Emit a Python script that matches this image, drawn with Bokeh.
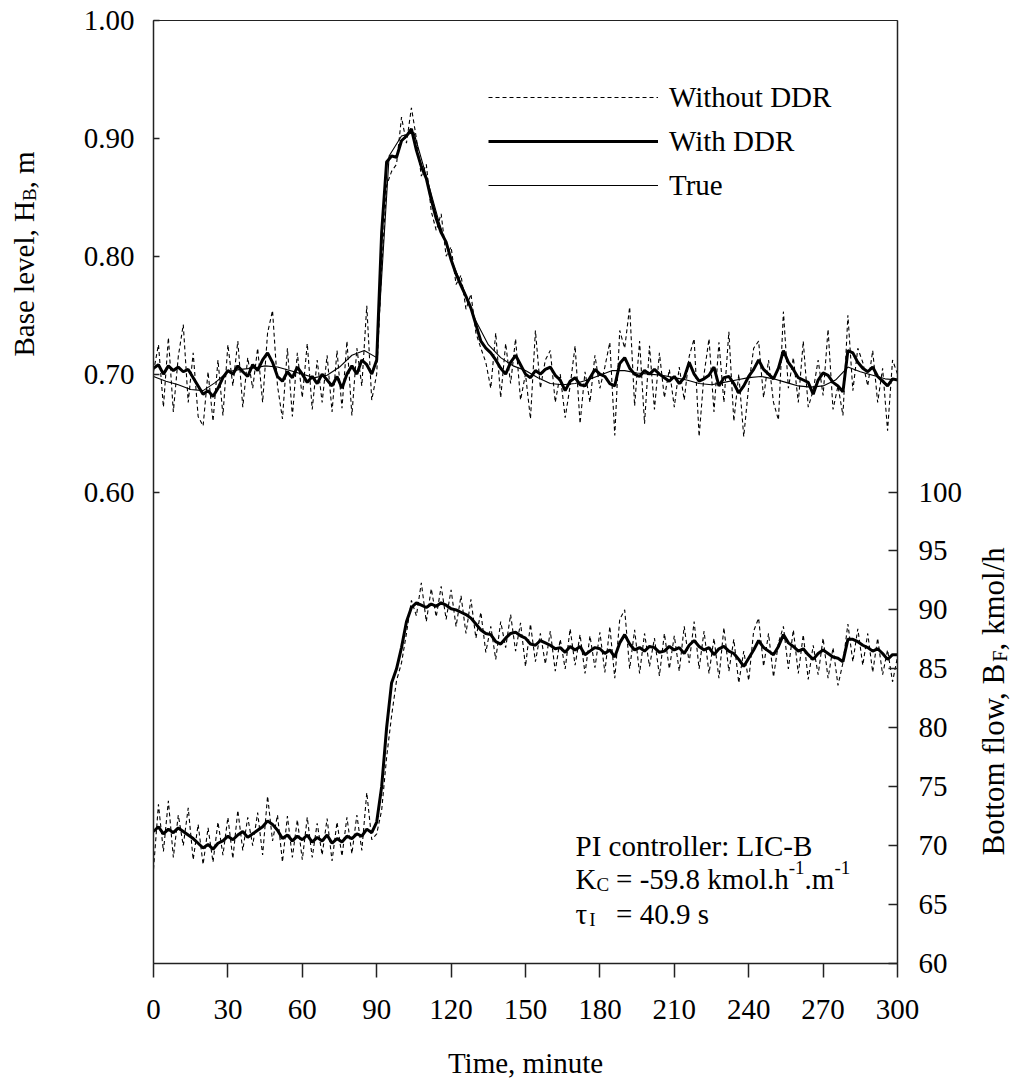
import math
from bokeh.plotting import figure
from bokeh.layouts import row, column
from bokeh.models import (Range1d, LinearAxis, FixedTicker, PrintfTickFormatter,
                          Label, Legend, LegendItem)
from bokeh.embed import file_html
from bokeh.resources import INLINE

# ---------------- data ----------------
TIME_STEP2 = list(range(0, 301, 2))     # minutes, 2-min samples
TIME_STEP5 = list(range(0, 301, 5))     # minutes, 5-min samples

LEVEL_WITH_DDR = [
    0.705, 0.708, 0.700, 0.707, 0.703, 0.706, 0.702, 0.704, 0.697, 0.690,
    0.683, 0.686, 0.681, 0.688, 0.697, 0.703, 0.700, 0.707, 0.702, 0.698,
    0.708, 0.703, 0.712, 0.718, 0.710, 0.698, 0.694, 0.702, 0.697, 0.706,
    0.700, 0.693, 0.698, 0.692, 0.700, 0.695, 0.690, 0.698, 0.688, 0.700,
    0.707, 0.700, 0.712, 0.708, 0.700, 0.712, 0.820, 0.880, 0.885, 0.884,
    0.898, 0.902, 0.908, 0.890, 0.876, 0.866, 0.848, 0.832, 0.820, 0.812,
    0.797, 0.785, 0.775, 0.766, 0.756, 0.742, 0.728, 0.722, 0.718, 0.712,
    0.705, 0.700, 0.710, 0.716, 0.708, 0.700, 0.697, 0.703, 0.700, 0.704,
    0.706, 0.699, 0.695, 0.686, 0.694, 0.697, 0.691, 0.690, 0.697, 0.704,
    0.700, 0.698, 0.692, 0.690, 0.709, 0.714, 0.705, 0.700, 0.698, 0.703,
    0.700, 0.704, 0.700, 0.697, 0.694, 0.698, 0.692, 0.697, 0.710, 0.700,
    0.694, 0.696, 0.699, 0.706, 0.690, 0.697, 0.698, 0.692, 0.684, 0.690,
    0.698, 0.704, 0.712, 0.704, 0.700, 0.696, 0.705, 0.720, 0.710, 0.704,
    0.697, 0.695, 0.693, 0.683, 0.695, 0.701, 0.699, 0.693, 0.690, 0.685,
    0.720, 0.718, 0.710, 0.705, 0.702, 0.706, 0.698, 0.694, 0.690, 0.696,
    0.695]

LEVEL_WITHOUT_DDR = [
    0.702, 0.725, 0.672, 0.731, 0.668, 0.715, 0.742, 0.676, 0.718, 0.664,
    0.656, 0.702, 0.660, 0.712, 0.665, 0.725, 0.690, 0.728, 0.672, 0.714,
    0.688, 0.722, 0.676, 0.735, 0.754, 0.690, 0.662, 0.722, 0.664, 0.718,
    0.680, 0.726, 0.670, 0.712, 0.676, 0.716, 0.668, 0.720, 0.671, 0.728,
    0.665, 0.722, 0.690, 0.758, 0.678, 0.700, 0.790, 0.860, 0.872, 0.878,
    0.918, 0.896, 0.926, 0.900, 0.868, 0.878, 0.838, 0.822, 0.836, 0.800,
    0.808, 0.776, 0.784, 0.755, 0.768, 0.735, 0.722, 0.710, 0.688, 0.735,
    0.680, 0.726, 0.692, 0.730, 0.678, 0.700, 0.662, 0.737, 0.688, 0.712,
    0.720, 0.676, 0.700, 0.663, 0.690, 0.724, 0.658, 0.702, 0.676, 0.716,
    0.688, 0.706, 0.727, 0.648, 0.737, 0.722, 0.757, 0.673, 0.728, 0.658,
    0.724, 0.670, 0.718, 0.680, 0.704, 0.672, 0.706, 0.678, 0.715, 0.730,
    0.647, 0.700, 0.730, 0.668, 0.727, 0.676, 0.736, 0.660, 0.700, 0.647,
    0.690, 0.722, 0.728, 0.680, 0.712, 0.676, 0.661, 0.753, 0.688, 0.714,
    0.676, 0.728, 0.672, 0.686, 0.712, 0.682, 0.738, 0.670, 0.690, 0.665,
    0.750, 0.686, 0.722, 0.710, 0.690, 0.720, 0.676, 0.705, 0.652, 0.712,
    0.700]

LEVEL_TRUE = [
    0.698, 0.694, 0.691, 0.687, 0.686, 0.693, 0.702, 0.704, 0.705, 0.707,
    0.706, 0.703, 0.700, 0.697, 0.699, 0.706, 0.716, 0.720, 0.714, 0.885,
    0.902, 0.905, 0.868, 0.830, 0.797, 0.772, 0.745, 0.725, 0.714, 0.707,
    0.703, 0.697, 0.692, 0.691, 0.692, 0.695, 0.699, 0.703, 0.703, 0.701,
    0.700, 0.699, 0.697, 0.695, 0.692, 0.691, 0.693, 0.695, 0.697, 0.698,
    0.696, 0.693, 0.690, 0.689, 0.690, 0.695, 0.706, 0.702, 0.699, 0.696,
    0.695]

FLOW_WITH_DDR = [
    71.2, 71.6, 71.0, 71.4, 71.1, 71.5, 71.2, 70.9, 70.6, 70.2,
    69.8, 70.1, 69.7, 70.2, 70.4, 70.8, 70.5, 70.9, 71.2, 70.7,
    71.0, 71.3, 71.6, 72.1, 71.8, 71.3, 70.6, 70.9, 70.4, 70.8,
    70.5, 70.9, 70.3, 70.7, 70.4, 70.9, 70.2, 70.6, 70.3, 70.8,
    70.6, 71.0, 70.8, 71.4, 71.1, 72.0, 75.0, 80.0, 83.8, 85.0,
    86.8, 89.0, 90.2, 90.6, 90.4, 90.2, 90.5, 90.3, 90.6, 90.4,
    90.1, 90.0, 89.8, 89.6, 89.3, 88.8, 88.3, 88.0, 87.9, 87.3,
    87.1, 87.6, 88.0, 88.1, 87.8, 87.6, 87.1, 87.0, 87.4, 87.2,
    87.0, 86.7, 86.8, 86.4, 86.9, 86.6, 86.9, 86.2, 86.5, 86.8,
    86.7, 86.3, 86.6, 86.0, 87.2, 87.9, 87.1, 86.6, 86.8, 86.5,
    86.9, 86.8, 86.4, 86.5, 86.9, 86.6, 86.8, 86.3, 87.0, 87.4,
    86.9, 86.6, 86.8, 86.2, 86.7, 86.9, 86.5, 86.3, 85.8, 85.2,
    85.9, 86.6, 87.4, 86.8, 86.5, 86.2, 86.9, 87.9, 87.2, 86.9,
    86.5, 86.7, 86.2, 85.8, 86.3, 86.6, 86.3, 86.0, 85.9, 85.6,
    87.5, 87.5, 87.3, 87.0, 86.8, 86.5, 86.7, 86.3, 85.8, 86.2,
    86.2]

FLOW_WITHOUT_DDR = [
    68.0, 73.5, 69.5, 73.8, 69.0, 72.6, 70.0, 73.2, 68.8, 71.8,
    68.4, 71.5, 68.6, 72.0, 69.2, 72.4, 68.9, 73.0, 69.6, 72.4,
    70.0, 72.8, 69.2, 74.2, 70.4, 72.6, 68.6, 72.5, 69.0, 72.2,
    68.8, 72.4, 69.0, 71.9, 69.2, 72.3, 68.7, 72.0, 69.1, 72.4,
    69.3, 72.6, 69.6, 74.5, 70.5, 71.0, 73.0, 77.5, 81.0, 84.0,
    85.5, 88.0, 90.8, 89.5, 92.3, 89.0, 91.8, 89.4, 92.0, 89.2,
    91.7, 88.6, 91.2, 88.0, 90.9, 87.6, 89.8, 86.4, 88.6, 85.8,
    89.0, 86.8, 89.6, 86.5, 88.9, 85.2, 88.8, 85.6, 88.0, 85.4,
    88.2, 84.8, 87.5, 85.0, 88.4, 85.3, 87.9, 84.6, 87.8, 85.1,
    88.1, 84.7, 88.6, 84.2, 89.2, 90.0, 85.0, 88.3, 84.6, 88.0,
    85.2, 87.6, 84.4, 88.0, 85.0, 87.8, 84.8, 88.6, 85.5, 89.0,
    85.0, 88.2, 84.6, 87.6, 84.2, 88.5, 84.8, 87.5, 83.8, 86.5,
    84.0, 88.2, 89.3, 85.2, 88.0, 84.3, 87.2, 88.6, 85.0, 88.3,
    84.6, 87.9, 84.1, 87.0, 84.5, 87.6, 84.2, 86.8, 83.6, 85.5,
    88.8, 85.6, 88.4, 85.3, 88.0, 84.7, 87.6, 84.5, 86.6, 83.9,
    86.0]

X_TICKS = [0, 30, 60, 90, 120, 150, 180, 210, 240, 270, 300]
LEVEL_TICKS = [0.60, 0.70, 0.80, 0.90, 1.00]
FLOW_TICKS = [60, 65, 70, 75, 80, 85, 90, 95, 100]

LEGEND_LABELS = ["Without DDR", "With DDR", "True"]

# ---------------- layout constants (page pixels) ----------------
FONT = "Liberation Serif"
FS = 29          # main font size (px)
SFS = 19         # sub/superscript font size (px)
BFIX = 10        # baseline correction for Label text (px)
RFIX = 18        # along-text correction for rotated Label text (px)
PAGE_W, PAGE_H = 1013, 1082
LEFT_W = 60                 # left text panel
RIGHT_X = 970               # right text panel starts here
MAIN_H = 1038               # main figure height; bottom panel below
FL, FR, FT, FB = 153, 897, 20, 963     # frame edges
X0, X1 = 0, 300
Y0, Y1 = 0.2, 1.0

def xd(px):
    return X0 + (px - FL) / (FR - FL) * (X1 - X0)

def yd(py):
    return Y1 - (py - FT) / (FB - FT) * (Y1 - Y0)

TW = {' ': 250, ',': 250, '.': 250, '-': 333, '=': 564, '/': 278, ':': 278,
      'A': 722, 'B': 667, 'C': 667, 'D': 722, 'F': 556, 'H': 722, 'I': 333,
      'K': 722, 'L': 611, 'P': 556, 'R': 667, 'T': 611, 'W': 944,
      'a': 444, 'b': 500, 'c': 444, 'd': 500, 'e': 444, 'f': 333, 'h': 500,
      'i': 278, 'k': 500, 'l': 278, 'm': 778, 'n': 500, 'o': 500, 'r': 333,
      's': 389, 't': 278, 'u': 500, 'v': 500, 'w': 722, '\u03c4': 440}

def tw(s, size):
    return sum(TW.get(c, 500) for c in s) / 1000.0 * size

# ---------------- main figure ----------------
p = figure(frame_width=FR - FL, frame_height=FB - FT, title=None,
           min_border_left=FL - LEFT_W, min_border_right=RIGHT_X - FR,
           min_border_top=FT, min_border_bottom=MAIN_H - FB,
           x_range=Range1d(X0, X1), y_range=Range1d(Y0, Y1),
           output_backend="svg", toolbar_location=None, tools="",
           background_fill_color="white", border_fill_color="white")
p.xgrid.grid_line_color = None
p.ygrid.grid_line_color = None
p.outline_line_color = "#222222"
p.outline_line_width = 1

p.extra_y_ranges = {"flow": Range1d(60, 140)}

def style_axis(ax):
    ax.axis_line_color = "#222222"
    ax.axis_line_width = 1.5
    ax.major_tick_line_color = "#222222"
    ax.major_tick_line_width = 1.5
    ax.minor_tick_line_color = None
    ax.major_label_text_font = FONT
    ax.major_label_text_font_size = f"{FS}px"
    ax.major_label_text_color = "black"

xax = p.xaxis[0]
style_axis(xax)
xax.ticker = FixedTicker(ticks=X_TICKS)
xax.major_tick_in = 0
xax.major_tick_out = 14
xax.major_label_standoff = 22

yax = p.yaxis[0]
style_axis(yax)
yax.ticker = FixedTicker(ticks=LEVEL_TICKS)
yax.formatter = PrintfTickFormatter(format="%.2f")
yax.major_tick_in = 6
yax.major_tick_out = 0
yax.major_label_standoff = 19

rax = LinearAxis(y_range_name="flow", ticker=FixedTicker(ticks=FLOW_TICKS))
style_axis(rax)
rax.major_tick_in = 9
rax.major_tick_out = 0
rax.major_label_standoff = 21
p.add_layout(rax, "right")

# ---------------- series ----------------
r_wo = p.line(TIME_STEP2, LEVEL_WITHOUT_DDR, line_color="black", line_width=1.1,
              line_dash="4 3")
r_true = p.line(TIME_STEP5, LEVEL_TRUE, line_color="black", line_width=1.1)
r_w = p.line(TIME_STEP2, LEVEL_WITH_DDR, line_color="black", line_width=3)

p.line(TIME_STEP2, FLOW_WITHOUT_DDR, line_color="black", line_width=1.1,
       line_dash="4 3", y_range_name="flow")
p.line(TIME_STEP2, FLOW_WITH_DDR, line_color="black", line_width=3,
       y_range_name="flow")

legend = Legend(items=[LegendItem(label=LEGEND_LABELS[0], renderers=[r_wo]),
                       LegendItem(label=LEGEND_LABELS[1], renderers=[r_w]),
                       LegendItem(label=LEGEND_LABELS[2], renderers=[r_true])],
                location=(488 - FL, FB - 205),
                glyph_width=170, glyph_height=40, label_height=40,
                label_standoff=11, spacing=4, padding=0, margin=0,
                border_line_color=None, background_fill_alpha=0,
                label_text_font=FONT, label_text_font_size=f"{FS}px",
                label_text_color="black")
p.add_layout(legend)

def put_main(text, px, py, size=FS):
    p.add_layout(Label(x=xd(px), y=yd(py - BFIX), text=text,
                       text_font=FONT, text_font_size=f"{size}px",
                       text_align="left", text_baseline="alphabetic",
                       text_color="black"))

# controller annotation
AX = 575
put_main("PI controller: LIC-B", AX, 855)
x = AX
put_main("K", x, 888); x += tw("K", FS)
put_main("C", x, 894, size=SFS); x += tw("C", SFS) + 7
eq_x = x
put_main("= -59.8 kmol.h", x, 888); x += tw("= -59.8 kmol.h", FS)
put_main("-1", x, 877, size=SFS); x += tw("-1", SFS)
put_main(".m", x, 888); x += tw(".m", FS)
put_main("-1", x, 877, size=SFS)
put_main("\u03c4", AX, 923)
put_main("I", AX + tw("\u03c4", FS) + 1, 929, size=SFS)
put_main("= 40.9 s", eq_x, 923)

# ---------------- text panels (outside the frame) ----------------
def panel(x0, w, h):
    return figure(frame_width=w, frame_height=h, min_border=0, title=None,
                  x_range=Range1d(x0, x0 + w), y_range=Range1d(0, h),
                  x_axis_type=None, y_axis_type=None,
                  output_backend="svg", toolbar_location=None, tools="",
                  outline_line_color=None, background_fill_color="white",
                  border_fill_color="white")

def put(f, y0, h, text, px, py, size=FS, angle=0.0, align="left"):
    f.add_layout(Label(x=px, y=(y0 + h) - py, text=text, angle=angle,
                       text_font=FONT, text_font_size=f"{size}px",
                       text_align=align, text_baseline="alphabetic",
                       text_color="black"))

left_panel = panel(0, LEFT_W, MAIN_H)
right_panel = panel(RIGHT_X, PAGE_W - RIGHT_X, MAIN_H)
bottom_panel = panel(0, PAGE_W, PAGE_H - MAIN_H)

def vertical(f, y0, h, pieces, bx, start_py):
    """pieces: (text, size, baseline shift to the right in px)"""
    py = start_py - RFIX
    for text, size, shift in pieces:
        put(f, y0, h, text, bx + shift - BFIX, py, size=size, angle=math.pi / 2)
        py -= tw(text, size)

# left title: Base level, H_B, m
vertical(left_panel, 0, MAIN_H,
         [("Base level, H", FS, 0), ("B", SFS, 6), (", m", FS, 0)], 33, 354)
# right title: Bottom flow, B_F,  kmol/h
vertical(right_panel, 0, MAIN_H,
         [("Bottom flow, B", 31, 0), ("F", 20, 6), (",  kmol/h", 31, 0)],
         1003, 853)
# x title
put(bottom_panel, MAIN_H, PAGE_H - MAIN_H, "Time, minute", (FL + FR) / 2,
    1072 - BFIX, align="center")

layout = column(row(left_panel, p, right_panel, spacing=0), bottom_panel, spacing=0)
open("out.html", "w").write(file_html(layout, INLINE))
